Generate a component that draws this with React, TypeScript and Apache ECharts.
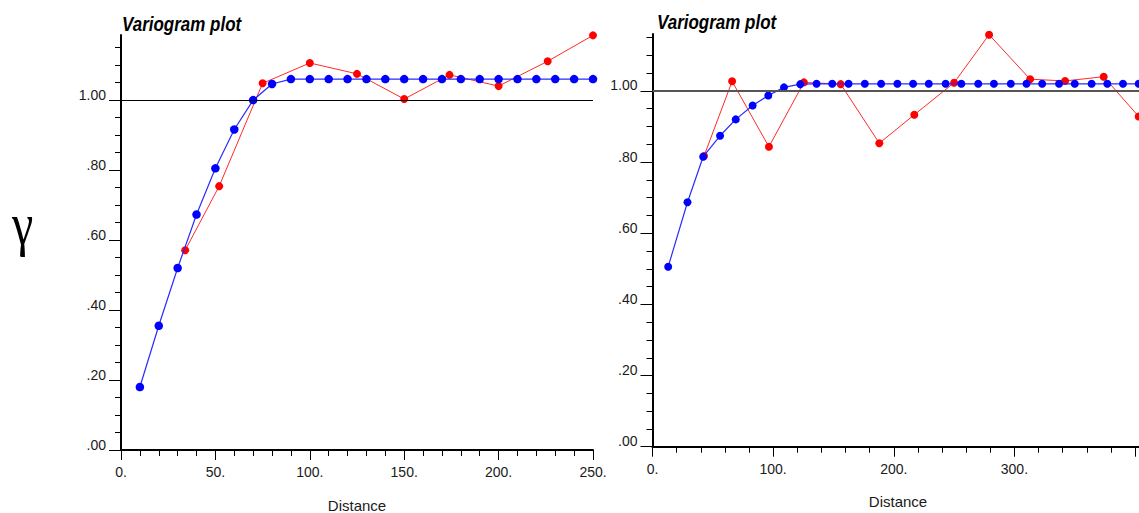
import React, { useEffect, useRef } from "react";
import * as echarts from "echarts";

// ---- Left variogram ----
const leftModelDist = [10, 20, 30, 40, 50, 60, 70, 80, 90, 100, 110, 120, 130, 140, 150, 160, 170, 180, 190, 200, 210, 220, 230, 240, 250];
const leftModelGamma = [0.18, 0.355, 0.52, 0.673, 0.805, 0.916, 1.0, 1.046, 1.06, 1.06, 1.06, 1.06, 1.06, 1.06, 1.06, 1.06, 1.06, 1.06, 1.06, 1.06, 1.06, 1.06, 1.06, 1.06, 1.06];
const leftExpDist = [34, 52, 75, 100, 125, 150, 174, 200, 226, 250];
const leftExpGamma = [0.571, 0.754, 1.048, 1.106, 1.075, 1.003, 1.072, 1.04, 1.111, 1.185];

// ---- Right variogram ----
const rightModelDist = [13, 29, 42, 56, 69, 83, 96, 109, 122.5, 136, 149, 162.5, 176, 189.5, 203, 216, 229, 243, 256, 270, 283, 297, 310, 323, 337, 350, 364, 377, 390, 403];
const rightModelGamma = [0.506, 0.687, 0.815, 0.874, 0.92, 0.959, 0.987, 1.01, 1.019, 1.02, 1.02, 1.02, 1.02, 1.02, 1.02, 1.02, 1.02, 1.02, 1.02, 1.02, 1.02, 1.02, 1.02, 1.02, 1.02, 1.02, 1.02, 1.02, 1.02, 1.02];
const rightExpDist = [42.7, 66, 96.5, 125.5, 156, 188, 217, 250, 279, 313, 342, 374, 403];
const rightExpGamma = [0.817, 1.027, 0.843, 1.024, 1.019, 0.853, 0.933, 1.023, 1.158, 1.033, 1.028, 1.04, 0.928];

// ---- Ticks ----
const yMajorTicks = [0, 0.2, 0.4, 0.6, 0.8, 1.0];
const yMinorTicks = [0.05, 0.1, 0.15, 0.25, 0.3, 0.35, 0.45, 0.5, 0.55, 0.65, 0.7, 0.75, 0.85, 0.9, 0.95, 1.05, 1.1, 1.15];
const leftXLabels = [0, 50, 100, 150, 200, 250];
const rightXLabels = [0, 100, 200, 300];
const sillValue = 1.0;
const titleText = "Variogram plot";
const xAxisTitle = "Distance";
const yAxisSymbol = "γ";

const FONT = '"Liberation Sans", Arial, sans-serif';
const zip = (xs: number[], ys: number[]) => xs.map((x, i) => [x, ys[i]]);
const yFmt = (v: number) => (v >= 1 ? v.toFixed(2) : v.toFixed(2).slice(1));
const xFmt = (v: number) => `${v}.`;

function majorY(grid: number, max: number) {
  return {
    type: "value",
    gridIndex: grid,
    position: "left",
    min: 0,
    max,
    axisLine: { show: true, lineStyle: { color: "#000", width: 2 } },
    axisTick: { show: true, customValues: yMajorTicks, length: 12, lineStyle: { color: "#000", width: 1 } },
    axisLabel: {
      show: true,
      customValues: yMajorTicks,
      formatter: yFmt,
      fontSize: 14,
      fontFamily: FONT,
      color: "#1a1a1a",
      margin: 15,
      verticalAlign: "bottom",
      lineHeight: 11,
    },
    splitLine: { show: false },
  };
}
function minorY(grid: number, max: number) {
  return {
    type: "value",
    gridIndex: grid,
    position: "left",
    offset: 0,
    min: 0,
    max,
    axisLine: { show: false },
    axisTick: { show: true, customValues: yMinorTicks, length: 6, lineStyle: { color: "#000", width: 1 } },
    axisLabel: { show: false },
    splitLine: { show: false },
  };
}

export default function App() {
  const ref = useRef<HTMLDivElement>(null);
  useEffect(() => {
    const chart = echarts.init(ref.current!, null, { renderer: "svg" });
    const lineBase = (color: string, lineColor: string, width: number, size: number) => ({
      type: "line",
      symbol: "circle",
      symbolSize: size,
      clip: false,
      itemStyle: { color },
      lineStyle: { color: lineColor, width },
      emphasis: { disabled: true },
    });
    const option: any = {
      animation: false,
      backgroundColor: "#fff",
      grid: [
        { left: 121, top: 35, width: 472, height: 415, containLabel: false, outerBoundsMode: "none" },
        { left: 652.5, top: 34, width: 491, height: 412.7, containLabel: false, outerBoundsMode: "none" },
      ],
      xAxis: [
        {
          type: "value",
          gridIndex: 0,
          min: 0,
          max: 250,
          interval: 50,
          axisLine: { show: true, lineStyle: { color: "#000", width: 2 } },
          axisTick: { show: true, length: 10, lineStyle: { color: "#000", width: 1 } },
          minorTick: { show: true, splitNumber: 5, length: 6, lineStyle: { color: "#000", width: 1 } },
          axisLabel: { customValues: leftXLabels, formatter: xFmt, fontSize: 14, fontFamily: FONT, color: "#1a1a1a", margin: 15 },
          splitLine: { show: false },
          name: xAxisTitle,
          nameLocation: "middle",
          nameGap: 48,
          nameTextStyle: { fontSize: 15, fontFamily: FONT, color: "#1a1a1a" },
        },
        {
          type: "value",
          gridIndex: 1,
          min: 0,
          max: 407,
          interval: 100,
          axisLine: { show: true, lineStyle: { color: "#000", width: 2 } },
          axisTick: { show: true, length: 10, lineStyle: { color: "#000", width: 1 } },
          axisLabel: { customValues: rightXLabels, formatter: xFmt, fontSize: 14, fontFamily: FONT, color: "#1a1a1a", margin: 15 },
          splitLine: { show: false },
          name: xAxisTitle,
          nameLocation: "middle",
          nameGap: 47,
          nameTextStyle: { fontSize: 15, fontFamily: FONT, color: "#1a1a1a" },
        },
        {
          type: "value",
          gridIndex: 1,
          position: "bottom",
          min: 0,
          max: 407,
          interval: 20,
          axisLine: { show: false },
          axisTick: { show: true, length: 6, lineStyle: { color: "#000", width: 1 } },
          axisLabel: { show: false },
          splitLine: { show: false },
        },
      ],
      yAxis: [majorY(0, 1.186), minorY(0, 1.186), majorY(1, 1.16), minorY(1, 1.16)],
      graphic: [
        {
          type: "text",
          x: 22.5,
          y: 224,
          scaleY: 1.22,
          style: {
            text: yAxisSymbol,
            font: '48px "Liberation Serif", "DejaVu Serif", serif',
            fill: "#000",
            align: "center",
            verticalAlign: "middle",
            textAlign: "center",
            textVerticalAlign: "middle",
          },
        },
        {
          type: "text",
          x: 122,
          y: 24.5,
          scaleY: 1.15,
          style: {
            text: titleText,
            font: `italic bold 17px ${FONT}`,
            fill: "#000",
            align: "left",
            verticalAlign: "middle",
            textAlign: "left",
            textVerticalAlign: "middle",
          },
        },
        {
          type: "text",
          x: 657,
          y: 21.7,
          scaleY: 1.15,
          style: {
            text: titleText,
            font: `italic bold 17px ${FONT}`,
            fill: "#000",
            align: "left",
            verticalAlign: "middle",
            textAlign: "left",
            textVerticalAlign: "middle",
          },
        },
      ],
      series: [
        {
          ...lineBase("#ff0000", "#ff2a2a", 1, 8),
          xAxisIndex: 0,
          yAxisIndex: 0,
          z: 2,
          data: zip(leftExpDist, leftExpGamma),
          markLine: {
            silent: true,
            symbol: "none",
            label: { show: false },
            lineStyle: { color: "#000", width: 1, type: "solid" },
            data: [{ yAxis: sillValue }],
          },
        },
        {
          ...lineBase("#0000ff", "#2a2aff", 1.2, 8.5),
          xAxisIndex: 0,
          yAxisIndex: 0,
          z: 3,
          data: zip(leftModelDist, leftModelGamma),
        },
        {
          ...lineBase("#ff0000", "#ff2a2a", 1, 8),
          xAxisIndex: 1,
          yAxisIndex: 2,
          z: 2,
          data: zip(rightExpDist, rightExpGamma),
          markLine: {
            silent: true,
            symbol: "none",
            label: { show: false },
            lineStyle: { color: "#555", width: 2, type: "solid" },
            data: [{ yAxis: sillValue }],
          },
        },
        {
          ...lineBase("#0000ff", "#2a2aff", 1.2, 8),
          xAxisIndex: 1,
          yAxisIndex: 2,
          z: 3,
          data: zip(rightModelDist, rightModelGamma),
        },
      ],
    };
    chart.setOption(option);
    return () => chart.dispose();
  }, []);
  return (
    <div
      ref={ref}
      style={{ position: "fixed", left: 0, top: 0, width: 1139, height: 513, background: "#fff", overflow: "hidden" }}
    />
  );
}
